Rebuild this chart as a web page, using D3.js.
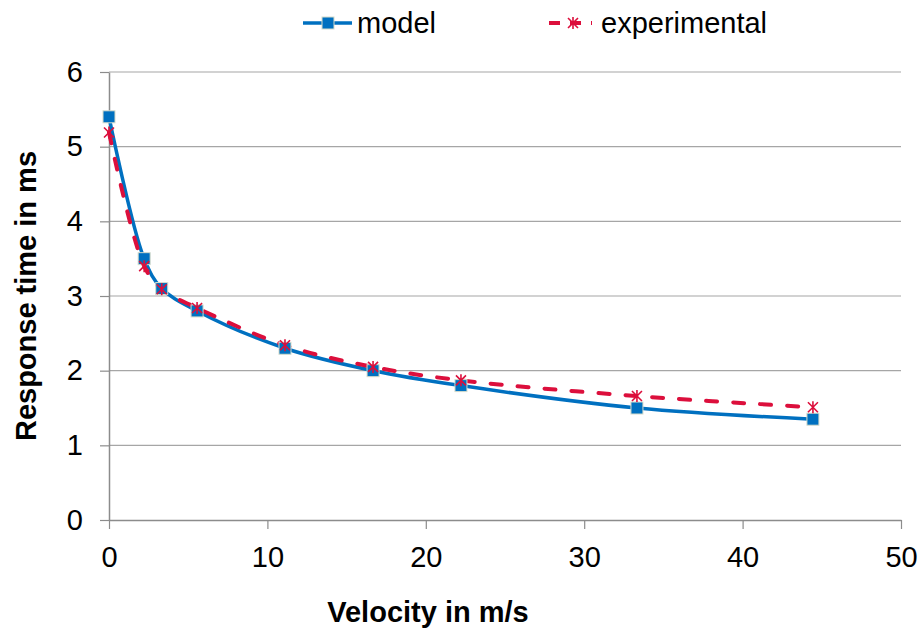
<!DOCTYPE html>
<html>
<head>
<meta charset="utf-8">
<script src="https://cdn.jsdelivr.net/npm/d3@7"></script>
<style>
  body { margin: 0; background: #fff; }
  svg text { font-family: "Liberation Sans", Arial, sans-serif; }
</style>
</head>
<body>
<svg id="chart" width="920" height="628"></svg>
<script>
var velocity = [0, 2.22, 3.33, 5.56, 11.11, 16.67, 22.22, 33.33, 44.44]
var model = [5.4, 3.5, 3.1, 2.8, 2.3, 2.0, 1.8, 1.5, 1.35]
var experimental = [5.19, 3.4, 3.09, 2.84, 2.34, 2.05, 1.87, 1.66, 1.51]
var xTicks = [0, 10, 20, 30, 40, 50]
var yTicks = [0, 1, 2, 3, 4, 5, 6]

function drawChart () {
  var svg = d3.select('#chart')
  var margin = { top: 72, left: 109, bottom: 108, right: 19 }
  var width = +svg.attr('width')
  var height = +svg.attr('height')
  var chartWidth = width - margin.left - margin.right
  var chartHeight = height - margin.top - margin.bottom
  var fontSize = 29

  var x = d3.scaleLinear().domain([0, 50]).range([0, chartWidth])
  var y = d3.scaleLinear().domain([0, 6]).range([chartHeight, 0])

  var g = svg.append('g')
    .attr('transform', 'translate(' + margin.left + ',' + margin.top + ')')

  // gridlines
  g.selectAll('line.grid')
    .data(yTicks.slice(1)).enter().append('line')
    .attr('class', 'grid')
    .attr('x1', 0).attr('x2', chartWidth)
    .attr('y1', function (d) { return y(d) })
    .attr('y2', function (d) { return y(d) })
    .attr('stroke', '#a6a6a6')
    .attr('stroke-width', 1.2)

  var gX = g.append('g')
    .attr('transform', 'translate(0,' + chartHeight + ')')
    .call(d3.axisBottom(x).tickValues(xTicks).tickFormat(d3.format('d'))
      .tickSize(9).tickPadding(17).tickSizeOuter(0))
  var gY = g.append('g')
    .call(d3.axisLeft(y).tickValues(yTicks).tickFormat(d3.format('d'))
      .tickSize(9).tickPadding(17).tickSizeOuter(0))

  ;[gX, gY].forEach(function (ax) {
    ax.select('.domain').attr('stroke', '#8c8c8c').attr('stroke-width', 1.5)
    ax.selectAll('.tick line').attr('stroke', '#8c8c8c').attr('stroke-width', 1.2)
    ax.selectAll('.tick text').attr('font-size', fontSize).attr('fill', '#000')
      .style('font-family', '"Liberation Sans", Arial, sans-serif')
  })

  var modelData = velocity.map(function (v, i) { return { x: v, y: model[i] } })
  var expData = velocity.map(function (v, i) { return { x: v, y: experimental[i] } })

  var line = d3.line()
    .x(function (d) { return x(d.x) })
    .y(function (d) { return y(d.y) })
    .curve(d3.curveCatmullRom.alpha(0.5))

  g.append('path')
    .datum(modelData)
    .attr('fill', 'none')
    .attr('stroke', '#0070c0')
    .attr('stroke-width', 3.5)
    .attr('d', line)

  g.append('path')
    .datum(expData)
    .attr('fill', 'none')
    .attr('stroke', '#dc0f3c')
    .attr('stroke-width', 4)
    .attr('stroke-dasharray', '11,16')
    .attr('stroke-linecap', 'round')
    .attr('d', line)

  function square (sel, cx, cy) {
    sel.append('rect')
      .attr('x', cx - 6).attr('y', cy - 6)
      .attr('width', 12).attr('height', 12)
      .attr('fill', '#0070c0')
      .attr('stroke', '#d6dccb')
      .attr('stroke-width', 1)
  }
  function star (sel, cx, cy) {
    var s = 5
    sel.append('path')
      .attr('d', 'M' + (cx - s) + ',' + (cy - s) + 'L' + (cx + s) + ',' + (cy + s) +
        'M' + (cx - s) + ',' + (cy + s) + 'L' + (cx + s) + ',' + (cy - s) +
        'M' + cx + ',' + (cy - s - 1) + 'L' + cx + ',' + (cy + s + 1))
      .attr('stroke', '#dc0f3c')
      .attr('stroke-width', 1.6)
      .attr('fill', 'none')
  }

  modelData.forEach(function (d) { square(g, x(d.x), y(d.y)) })
  expData.forEach(function (d) { star(g, x(d.x), y(d.y)) })

  // axis titles
  svg.append('text')
    .attr('x', 428).attr('y', 622)
    .attr('text-anchor', 'middle')
    .attr('font-size', fontSize).attr('font-weight', 'bold')
    .text('Velocity in m/s')

  svg.append('text')
    .attr('transform', 'translate(36,' + 296 + ') rotate(-90)')
    .attr('text-anchor', 'middle')
    .attr('font-size', fontSize).attr('font-weight', 'bold')
    .text('Response time in ms')

  // legend
  var legend = svg.append('g')
  legend.append('line')
    .attr('x1', 303).attr('x2', 352).attr('y1', 23).attr('y2', 23)
    .attr('stroke', '#0070c0').attr('stroke-width', 3.5)
  square(legend, 328, 23)
  legend.append('text')
    .attr('x', 357).attr('y', 33).attr('font-size', fontSize).text('model')

  legend.append('line')
    .attr('x1', 549).attr('x2', 592).attr('y1', 23).attr('y2', 23)
    .attr('stroke', '#dc0f3c').attr('stroke-width', 4)
    .attr('stroke-dasharray', '11,10')
  star(legend, 573, 23)
  legend.append('text')
    .attr('x', 601).attr('y', 33).attr('font-size', fontSize).text('experimental')
}

drawChart()
</script>
</body>
</html>
